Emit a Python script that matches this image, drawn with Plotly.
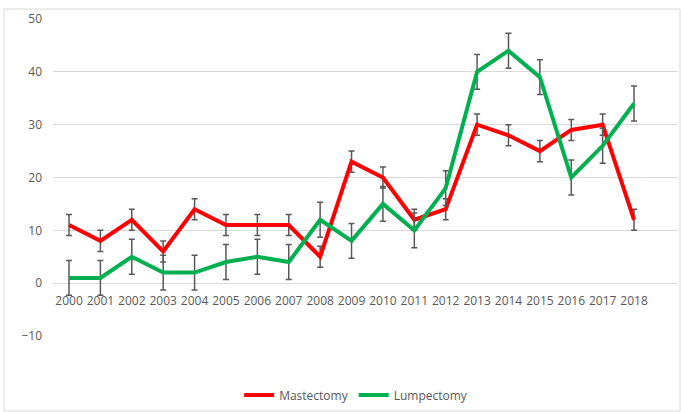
import plotly.graph_objects as go

years = list(range(2000, 2019))
mastectomy = [11, 8, 12, 6, 14, 11, 11, 11, 5, 23, 20, 12, 14, 30, 28, 25, 29, 30, 12]
mastectomy_err = [2] * 19
lumpectomy = [1, 1, 5, 2, 2, 4, 5, 4, 12, 8, 15, 10, 18, 40, 44, 39, 20, 26, 34]
lumpectomy_err = [3.3] * 19
ytick_vals = [-10, 0, 10, 20, 30, 40, 50]

font_fam = "Open Sans, Liberation Sans, sans-serif"
grey = "#595959"

fig = go.Figure()
fig.add_trace(go.Scatter(
    x=years, y=mastectomy, name="Mastectomy", mode="lines",
    line=dict(color="#FF0000", width=4),
    error_y=dict(type="data", array=mastectomy_err, visible=True,
                 color=grey, thickness=1.5, width=3),
))
fig.add_trace(go.Scatter(
    x=years, y=lumpectomy, name="Lumpectomy", mode="lines",
    line=dict(color="#00B050", width=4),
    error_y=dict(type="data", array=lumpectomy_err, visible=True,
                 color=grey, thickness=1.5, width=3),
))

fig.update_layout(
    width=681, height=412,
    margin=dict(l=53, r=3, t=19, b=76),
    paper_bgcolor="white", plot_bgcolor="white",
    font=dict(family=font_fam, size=12, color=grey),
    showlegend=True,
    legend=dict(orientation="h", x=0.485, xanchor="center", y=-0.14, yanchor="top",
                font=dict(size=12, color=grey), itemwidth=30, traceorder="normal"),
    xaxis=dict(
        range=[1999.49, 2019.4], tickvals=years, ticktext=[str(y) for y in years],
        showgrid=False, zeroline=False, showline=False,
        anchor="free", position=1/6, ticks="", tickangle=0,
        tickfont=dict(size=12, color=grey), ticklabelstandoff=9,
    ),
    yaxis=dict(
        range=[-10, 50], tickvals=ytick_vals, showgrid=True, gridcolor="#D9D9D9",
        gridwidth=1, zeroline=False, showline=False, ticks="",
        tickfont=dict(size=12, color=grey), ticklabelstandoff=10,
    ),
    shapes=[dict(type="rect", xref="paper", yref="paper",
                 x0=-49/625, x1=1.0 + 2/625, y0=-75/317, y1=1 + 10/317,
                 line=dict(color="#D9D9D9", width=1), fillcolor="rgba(0,0,0,0)",
                 layer="below")],
)

fig.write_html("out.html")
